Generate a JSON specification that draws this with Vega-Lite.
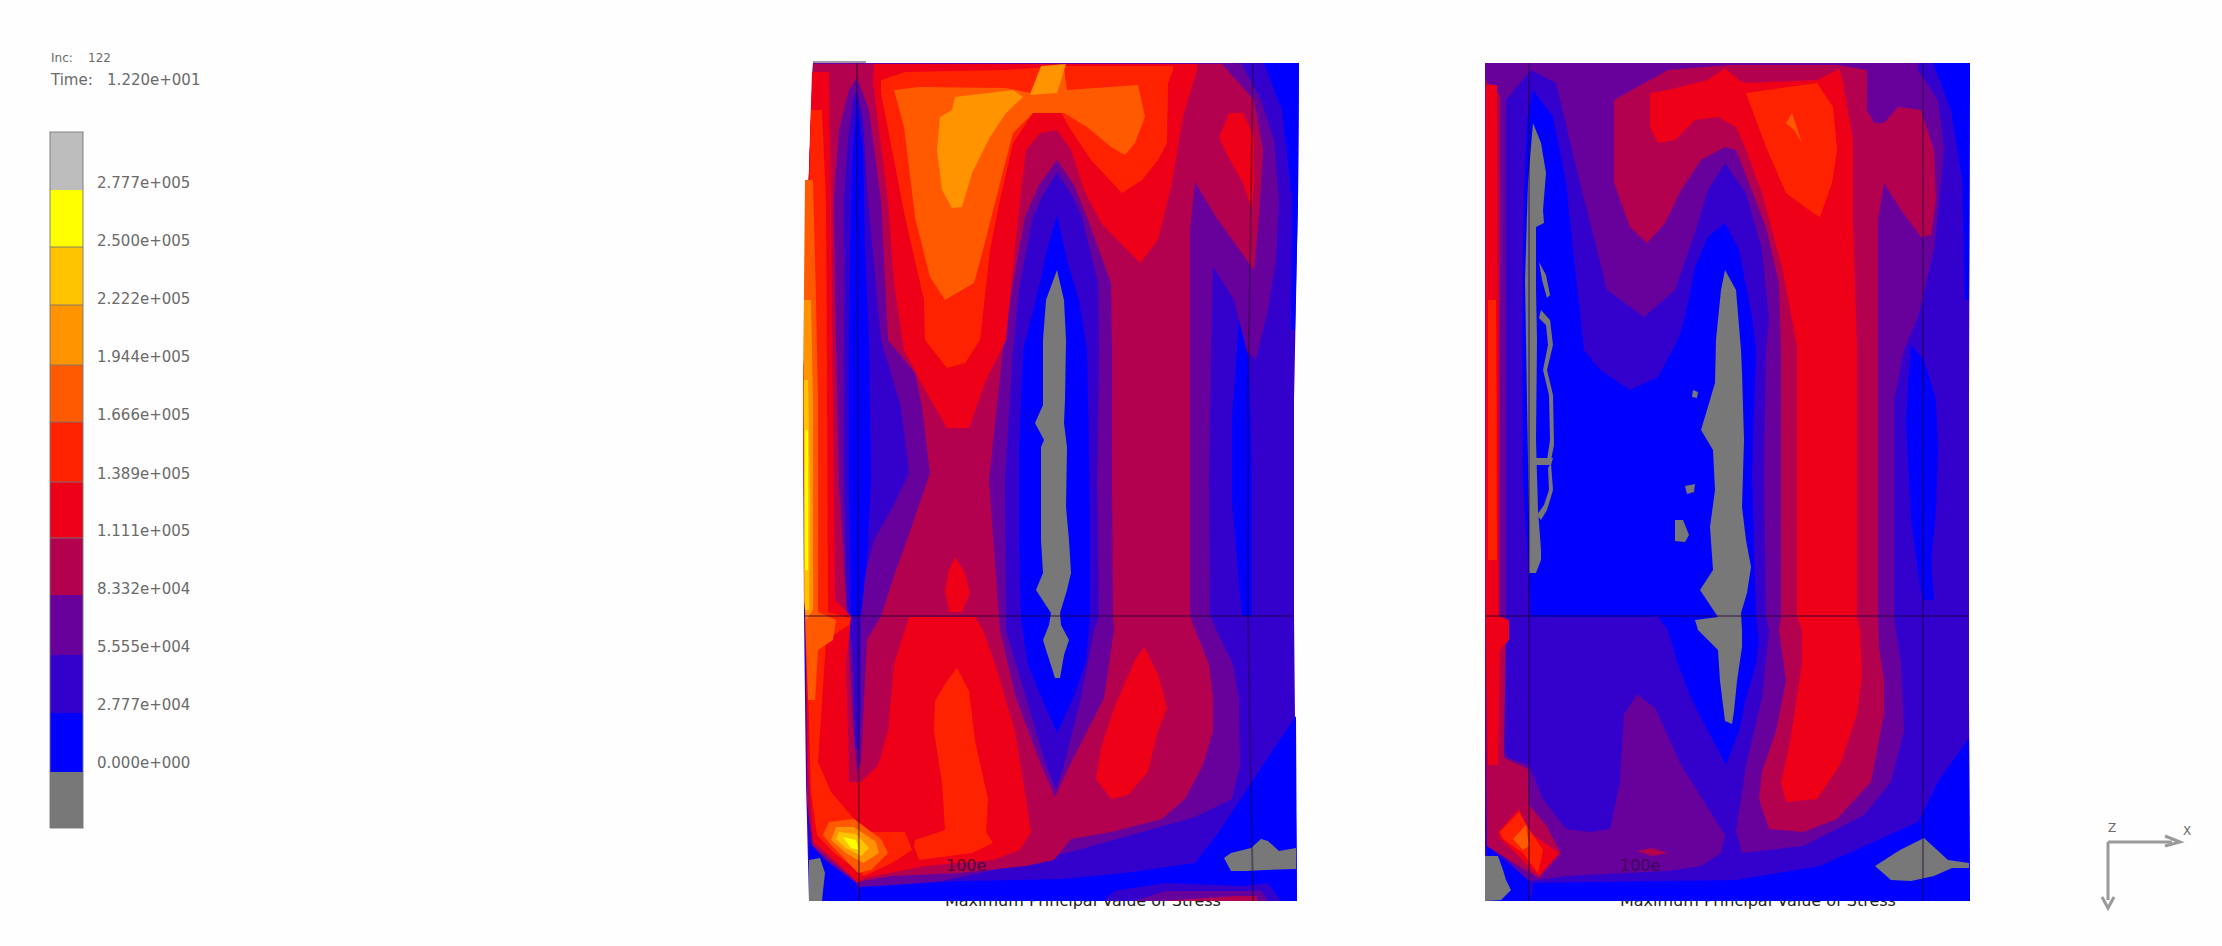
{"$schema":"https://vega.github.io/schema/vega-lite/v6.json","width":2222,"height":946,"padding":0,"autosize":"none","background":"#fefefe","view":{"stroke":null},
"projection":{"type":"identity","scale":1,"translate":[0,0]},
"datasets":{
"regions":[
{"level":"2.777e+005","geo":{"type":"Polygon","coordinates":[[[50,132],[83,132],[83,190],[50,190],[50,132]]]}},
{"level":"2.500e+005","geo":{"type":"Polygon","coordinates":[[[50,190],[83,190],[83,247],[50,247],[50,190]]]}},
{"level":"2.222e+005","geo":{"type":"Polygon","coordinates":[[[50,247],[83,247],[83,305],[50,305],[50,247]]]}},
{"level":"1.944e+005","geo":{"type":"Polygon","coordinates":[[[50,305],[83,305],[83,365],[50,365],[50,305]]]}},
{"level":"1.666e+005","geo":{"type":"Polygon","coordinates":[[[50,365],[83,365],[83,422],[50,422],[50,365]]]}},
{"level":"1.389e+005","geo":{"type":"Polygon","coordinates":[[[50,422],[83,422],[83,482],[50,482],[50,422]]]}},
{"level":"1.111e+005","geo":{"type":"Polygon","coordinates":[[[50,482],[83,482],[83,538],[50,538],[50,482]]]}},
{"level":"8.332e+004","geo":{"type":"Polygon","coordinates":[[[50,538],[83,538],[83,595],[50,595],[50,538]]]}},
{"level":"5.555e+004","geo":{"type":"Polygon","coordinates":[[[50,595],[83,595],[83,655],[50,655],[50,595]]]}},
{"level":"2.777e+004","geo":{"type":"Polygon","coordinates":[[[50,655],[83,655],[83,713],[50,713],[50,655]]]}},
{"level":"0.000e+000","geo":{"type":"Polygon","coordinates":[[[50,713],[83,713],[83,772],[50,772],[50,713]]]}},
{"level":"below","geo":{"type":"Polygon","coordinates":[[[50,772],[83,772],[83,828],[50,828],[50,772]]]}},

{"level":"2.777e+004","geo":{"type":"Polygon","coordinates":[[[813,63],[1299,63],[1298,200],[1294,400],[1294,616],[1295,721],[1297,901],[809,901],[806,782],[804,616],[803,400],[808,200],[813,63]]]}},
{"level":"5.555e+004","geo":{"type":"Polygon","coordinates":[[[813,63],[1241,63],[1261,100],[1274,140],[1279,200],[1276,260],[1268,310],[1256,360],[1246,350],[1234,300],[1213,267],[1211,350],[1209,480],[1210,616],[1221,640],[1233,664],[1239,698],[1240,765],[1232,799],[1195,817],[1124,837],[1074,851],[1003,868],[942,881],[861,888],[813,853],[807,802],[806,616],[803,400],[808,200],[813,63]]]}},
{"level":"8.332e+004","geo":{"type":"Polygon","coordinates":[[[813,64],[1222,64],[1254,100],[1263,150],[1259,217],[1254,270],[1216,217],[1195,182],[1190,230],[1190,616],[1195,630],[1209,664],[1213,698],[1213,731],[1203,765],[1185,799],[1162,819],[1111,832],[1071,839],[1054,860],[1026,866],[959,873],[891,876],[863,881],[858,883],[813,846],[807,802],[806,616],[803,400],[808,200],[813,64]]]}},
{"level":"5.555e+004","geo":{"type":"Polygon","coordinates":[[[857,78],[869,110],[881,200],[888,340],[915,373],[922,407],[930,473],[907,540],[895,573],[881,616],[867,640],[864,701],[861,762],[857,772],[853,721],[850,660],[847,616],[839,480],[836,340],[834,200],[839,130],[849,90],[857,78]]]}},
{"level":"5.555e+004","geo":{"type":"Polygon","coordinates":[[[1057,160],[1074,185],[1087,217],[1111,283],[1112,350],[1112,480],[1113,616],[1114,630],[1104,698],[1070,765],[1055,797],[1041,765],[1016,698],[1000,630],[989,480],[1003,350],[1013,283],[1025,217],[1039,185],[1057,160]]]}},
{"level":"2.777e+004","geo":{"type":"Polygon","coordinates":[[[857,90],[863,120],[868,200],[881,340],[901,407],[909,473],[891,510],[874,540],[861,590],[861,701],[859,749],[855,749],[853,650],[847,616],[844,480],[844,340],[844,200],[848,140],[853,100],[857,90]]]}},
{"level":"2.777e+004","geo":{"type":"Polygon","coordinates":[[[1057,172],[1072,195],[1082,217],[1098,283],[1099,350],[1097,480],[1099,616],[1094,630],[1081,698],[1064,765],[1056,789],[1046,765],[1026,698],[1006,630],[1005,480],[1013,350],[1020,283],[1033,217],[1043,195],[1057,172]]]}},
{"level":"0.000e+000","geo":{"type":"Polygon","coordinates":[[[857,100],[863,150],[865,250],[869,340],[871,480],[867,560],[861,616],[851,616],[849,480],[849,340],[851,200],[853,150],[857,100]]]}},
{"level":"0.000e+000","geo":{"type":"Polygon","coordinates":[[[1057,215],[1067,260],[1079,300],[1087,350],[1089,450],[1090,540],[1090,616],[1086,661],[1074,696],[1057,733],[1043,701],[1028,665],[1021,620],[1019,540],[1019,450],[1023,350],[1036,300],[1047,250],[1057,215]]]}},
{"level":"0.000e+000","geo":{"type":"Polygon","coordinates":[[[1239,320],[1249,360],[1252,480],[1252,616],[1242,616],[1232,500],[1232,420],[1239,320]]]}},
{"level":"0.000e+000","geo":{"type":"Polygon","coordinates":[[[1264,63],[1299,63],[1298,200],[1295,330],[1291,330],[1292,200],[1282,110],[1264,63]]]}},
{"level":"0.000e+000","geo":{"type":"Polygon","coordinates":[[[1296,716],[1297,901],[859,901],[859,887],[962,881],[1063,879],[1124,873],[1195,863],[1219,832],[1263,765],[1296,716]]]}},
{"level":"0.000e+000","geo":{"type":"Polygon","coordinates":[[[809,842],[825,860],[856,883],[859,901],[809,901],[809,842]]]}},
{"level":"2.777e+004","geo":{"type":"Polygon","coordinates":[[[1104,901],[1114,891],[1165,883],[1246,886],[1268,883],[1281,901],[1104,901]]]}},
{"level":"5.555e+004","geo":{"type":"Polygon","coordinates":[[[1134,901],[1165,891],[1236,891],[1261,891],[1268,901],[1134,901]]]}},
{"level":"8.332e+004","geo":{"type":"Polygon","coordinates":[[[1165,901],[1236,896],[1256,896],[1258,901],[1165,901]]]}},
{"level":"1.111e+005","geo":{"type":"Polygon","coordinates":[[[874,64],[1197,64],[1197,70],[1183,117],[1172,183],[1158,240],[1140,263],[1101,223],[1084,190],[1071,150],[1057,130],[1040,133],[1026,150],[1020,200],[1013,267],[1006,340],[986,380],[969,428],[947,428],[925,390],[904,350],[894,283],[888,200],[873,83],[874,64]]]}},
{"level":"1.111e+005","geo":{"type":"Polygon","coordinates":[[[1229,113],[1243,113],[1254,137],[1254,183],[1252,210],[1243,183],[1226,153],[1219,137],[1229,113]]]}},
{"level":"1.111e+005","geo":{"type":"Polygon","coordinates":[[[955,557],[965,573],[970,593],[962,612],[949,612],[945,590],[949,570],[955,557]]]}},
{"level":"1.111e+005","geo":{"type":"Polygon","coordinates":[[[812,72],[829,72],[831,200],[833,400],[835,600],[851,616],[849,640],[846,664],[848,731],[849,782],[861,782],[878,765],[888,731],[894,664],[905,630],[909,617],[975,617],[983,630],[995,664],[1015,731],[1026,799],[1031,832],[1020,850],[993,860],[925,866],[864,878],[858,883],[848,873],[823,850],[813,842],[808,765],[805,616],[803,400],[808,200],[812,72]]]}},
{"level":"1.111e+005","geo":{"type":"Polygon","coordinates":[[[1144,647],[1158,674],[1167,708],[1158,731],[1148,772],[1128,795],[1111,799],[1096,779],[1101,748],[1114,708],[1135,660],[1144,647]]]}},
{"level":"1.389e+005","geo":{"type":"Polygon","coordinates":[[[881,93],[905,217],[924,300],[925,340],[947,368],[965,363],[980,340],[990,250],[1000,200],[1013,143],[1033,113],[1061,113],[1071,130],[1091,160],[1122,193],[1142,180],[1158,160],[1167,143],[1168,83],[1173,70],[1173,66],[1064,66],[1003,70],[905,72],[881,80],[881,93]]]}},
{"level":"1.389e+005","geo":{"type":"Polygon","coordinates":[[[811,110],[822,110],[826,200],[827,400],[828,612],[851,618],[849,625],[826,640],[824,671],[818,762],[831,792],[854,819],[871,832],[905,832],[912,850],[892,863],[864,876],[834,853],[817,835],[811,792],[806,616],[804,400],[809,200],[811,110]]]}},
{"level":"1.389e+005","geo":{"type":"Polygon","coordinates":[[[957,668],[969,691],[975,741],[988,799],[986,832],[993,843],[972,853],[919,860],[914,846],[915,840],[945,830],[942,782],[934,731],[935,701],[945,684],[957,668]]]}},
{"level":"1.666e+005","geo":{"type":"Polygon","coordinates":[[[894,90],[919,87],[1006,88],[1030,93],[1040,70],[1064,68],[1067,90],[1138,85],[1145,117],[1135,143],[1125,155],[1111,147],[1087,127],[1064,113],[1033,113],[1013,133],[1000,183],[983,250],[974,283],[945,300],[930,277],[915,217],[904,127],[894,90]]]}},
{"level":"1.944e+005","geo":{"type":"Polygon","coordinates":[[[955,97],[1013,90],[1023,97],[1006,113],[990,137],[972,173],[962,207],[952,208],[942,190],[937,150],[940,117],[952,110],[955,97]]]}},
{"level":"1.944e+005","geo":{"type":"Polygon","coordinates":[[[1041,66],[1066,64],[1057,93],[1030,95],[1041,66]]]}},
{"level":"1.666e+005","geo":{"type":"Polygon","coordinates":[[[805,180],[813,180],[816,300],[818,400],[818,612],[836,620],[833,640],[818,650],[815,700],[808,700],[805,616],[803,400],[805,180]]]}},
{"level":"1.944e+005","geo":{"type":"Polygon","coordinates":[[[804,300],[811,300],[813,400],[813,610],[806,620],[804,600],[804,300]]]}},
{"level":"2.222e+005","geo":{"type":"Polygon","coordinates":[[[804,380],[808,380],[810,500],[809,610],[805,610],[804,500],[804,380]]]}},
{"level":"2.500e+005","geo":{"type":"Polygon","coordinates":[[[805,430],[808,430],[808,570],[805,570],[805,430]]]}},
{"level":"1.666e+005","geo":{"type":"Polygon","coordinates":[[[829,822],[854,819],[881,839],[888,853],[871,870],[858,873],[831,845],[823,835],[829,822]]]}},
{"level":"1.944e+005","geo":{"type":"Polygon","coordinates":[[[836,827],[854,827],[876,842],[879,853],[863,863],[846,853],[831,840],[836,827]]]}},
{"level":"2.222e+005","geo":{"type":"Polygon","coordinates":[[[839,832],[856,834],[869,848],[861,856],[846,848],[836,839],[839,832]]]}},
{"level":"2.500e+005","geo":{"type":"Polygon","coordinates":[[[843,837],[856,840],[859,850],[851,848],[843,837]]]}},
{"level":"below","geo":{"type":"Polygon","coordinates":[[[809,860],[820,858],[825,873],[823,891],[822,901],[809,901],[809,860]]]}},
{"level":"below","geo":{"type":"Polygon","coordinates":[[[1224,858],[1231,853],[1251,848],[1261,839],[1268,841],[1279,851],[1296,848],[1296,869],[1266,870],[1246,871],[1231,871],[1224,858]]]}},
{"level":"below","geo":{"type":"Polygon","coordinates":[[[1057,270],[1064,300],[1066,340],[1065,400],[1064,423],[1067,447],[1066,507],[1069,540],[1071,573],[1067,590],[1060,613],[1061,625],[1069,640],[1064,655],[1060,678],[1055,678],[1048,656],[1043,640],[1049,625],[1051,613],[1036,590],[1043,573],[1041,540],[1041,507],[1041,447],[1044,440],[1035,423],[1043,405],[1043,340],[1046,300],[1057,270]]]}},

{"level":"2.777e+004","geo":{"type":"Polygon","coordinates":[[[1485,63],[1970,63],[1969,400],[1969,701],[1970,901],[1485,901],[1485,63]]]}},
{"level":"5.555e+004","geo":{"type":"Polygon","coordinates":[[[1485,63],[1918,63],[1918,70],[1938,100],[1944,150],[1941,183],[1934,250],[1918,317],[1904,350],[1894,400],[1894,617],[1901,664],[1904,731],[1891,782],[1864,815],[1803,846],[1742,853],[1736,832],[1746,765],[1762,698],[1769,630],[1766,617],[1764,473],[1766,350],[1769,317],[1762,250],[1746,193],[1725,163],[1708,190],[1695,233],[1675,290],[1644,317],[1607,290],[1597,250],[1580,183],[1556,83],[1531,70],[1506,100],[1506,400],[1506,616],[1503,640],[1503,751],[1509,758],[1529,765],[1543,799],[1566,829],[1590,832],[1610,829],[1620,782],[1624,714],[1637,694],[1655,708],[1681,765],[1725,835],[1721,853],[1701,866],[1668,871],[1566,876],[1539,880],[1529,881],[1503,856],[1487,846],[1485,616],[1485,63]]]}},
{"level":"8.332e+004","geo":{"type":"Polygon","coordinates":[[[1485,80],[1500,95],[1500,400],[1500,616],[1506,630],[1504,758],[1528,769],[1529,805],[1546,825],[1561,853],[1539,878],[1509,860],[1487,846],[1485,616],[1485,80]]]}},
{"level":"8.332e+004","geo":{"type":"Polygon","coordinates":[[[1614,100],[1668,70],[1728,65],[1837,65],[1867,70],[1867,110],[1874,123],[1884,123],[1898,107],[1921,110],[1934,150],[1936,200],[1931,235],[1921,237],[1901,210],[1884,183],[1878,220],[1878,350],[1878,617],[1879,647],[1884,681],[1884,714],[1871,782],[1837,819],[1803,832],[1769,829],[1759,799],[1762,772],[1776,731],[1786,681],[1779,630],[1781,617],[1781,350],[1779,283],[1766,227],[1749,183],[1736,150],[1725,147],[1701,160],[1681,190],[1665,223],[1647,243],[1630,227],[1614,183],[1614,100]]]}},
{"level":"8.332e+004","geo":{"type":"Polygon","coordinates":[[[1637,851],[1652,848],[1668,853],[1652,856],[1637,851]]]}},
{"level":"0.000e+000","geo":{"type":"Polygon","coordinates":[[[1533,90],[1553,117],[1566,183],[1573,250],[1584,350],[1600,370],[1630,390],[1658,377],[1678,340],[1685,317],[1695,267],[1708,237],[1725,223],[1739,250],[1752,317],[1756,350],[1752,473],[1756,617],[1759,640],[1756,664],[1746,698],[1739,731],[1726,765],[1708,731],[1691,698],[1678,664],[1668,630],[1658,617],[1531,617],[1523,480],[1522,340],[1524,200],[1527,120],[1533,90]]]}},
{"level":"0.000e+000","geo":{"type":"Polygon","coordinates":[[[1911,345],[1924,360],[1936,400],[1938,450],[1936,510],[1931,560],[1934,600],[1922,600],[1911,520],[1906,420],[1911,345]]]}},
{"level":"0.000e+000","geo":{"type":"Polygon","coordinates":[[[1933,63],[1970,63],[1969,300],[1965,300],[1962,180],[1951,110],[1933,63]]]}},
{"level":"0.000e+000","geo":{"type":"Polygon","coordinates":[[[1969,738],[1970,901],[1531,901],[1533,883],[1736,880],[1820,866],[1918,822],[1938,782],[1969,738]]]}},
{"level":"0.000e+000","geo":{"type":"Polygon","coordinates":[[[1487,846],[1529,881],[1531,901],[1485,901],[1487,846]]]}},
{"level":"1.111e+005","geo":{"type":"Polygon","coordinates":[[[1486,85],[1497,85],[1498,400],[1498,616],[1509,620],[1509,640],[1500,650],[1498,765],[1488,765],[1486,616],[1486,85]]]}},
{"level":"1.111e+005","geo":{"type":"Polygon","coordinates":[[[1498,832],[1519,809],[1529,832],[1559,853],[1539,876],[1500,838],[1498,832]]]}},
{"level":"1.389e+005","geo":{"type":"Polygon","coordinates":[[[1500,832],[1519,812],[1529,829],[1543,850],[1538,873],[1523,853],[1503,839],[1500,832]]]}},
{"level":"1.666e+005","geo":{"type":"Polygon","coordinates":[[[1513,839],[1526,825],[1529,846],[1523,850],[1513,839]]]}},
{"level":"1.389e+005","geo":{"type":"Polygon","coordinates":[[[1488,300],[1496,300],[1497,560],[1488,560],[1488,300]]]}},
{"level":"1.111e+005","geo":{"type":"Polygon","coordinates":[[[1650,127],[1650,93],[1668,90],[1708,80],[1725,68],[1739,80],[1746,83],[1817,80],[1837,70],[1840,70],[1843,83],[1853,140],[1853,217],[1857,347],[1857,617],[1860,630],[1862,674],[1857,714],[1840,765],[1817,799],[1786,802],[1781,782],[1789,748],[1802,664],[1802,630],[1797,617],[1797,347],[1782,267],[1762,193],[1746,150],[1736,127],[1718,117],[1695,120],[1675,140],[1658,143],[1650,127]]]}},
{"level":"1.389e+005","geo":{"type":"Polygon","coordinates":[[[1746,93],[1817,83],[1833,107],[1837,150],[1832,183],[1820,217],[1813,213],[1786,193],[1766,147],[1746,93]]]}},
{"level":"1.666e+005","geo":{"type":"Polygon","coordinates":[[[1792,113],[1802,143],[1794,130],[1786,123],[1792,113]]]}},
{"level":"below","geo":{"type":"Polygon","coordinates":[[[1485,856],[1498,856],[1503,870],[1506,880],[1511,890],[1501,900],[1485,901],[1485,856]]]}},
{"level":"below","geo":{"type":"Polygon","coordinates":[[[1875,866],[1900,850],[1924,838],[1948,860],[1969,863],[1969,868],[1952,868],[1934,876],[1911,881],[1891,880],[1875,866]]]}},
{"level":"below","geo":{"type":"Polygon","coordinates":[[[1533,123],[1541,143],[1546,173],[1543,210],[1544,223],[1536,227],[1536,290],[1537,340],[1536,440],[1538,510],[1541,550],[1541,560],[1536,573],[1529,573],[1529,520],[1526,340],[1525,280],[1528,183],[1533,123]]]}},
{"level":"below","geo":{"type":"Polygon","coordinates":[[[1539,262],[1546,275],[1550,295],[1547,298],[1542,280],[1539,262]]]}},
{"level":"below","geo":{"type":"Polygon","coordinates":[[[1541,310],[1550,320],[1553,345],[1547,370],[1553,395],[1554,445],[1551,460],[1547,460],[1550,440],[1549,395],[1543,370],[1548,345],[1546,325],[1539,318],[1541,310]]]}},
{"level":"below","geo":{"type":"Polygon","coordinates":[[[1536,458],[1553,458],[1551,465],[1536,465],[1536,458]]]}},
{"level":"below","geo":{"type":"Polygon","coordinates":[[[1551,463],[1553,490],[1547,510],[1541,520],[1537,515],[1544,505],[1549,490],[1548,468],[1551,463]]]}},
{"level":"below","geo":{"type":"Polygon","coordinates":[[[1725,270],[1736,290],[1741,350],[1742,373],[1744,440],[1742,507],[1746,540],[1751,567],[1747,593],[1741,613],[1742,630],[1742,647],[1737,681],[1734,711],[1732,724],[1725,721],[1720,681],[1718,650],[1698,630],[1695,620],[1718,617],[1700,590],[1713,570],[1710,527],[1715,490],[1713,450],[1701,430],[1715,383],[1716,340],[1721,290],[1725,270]]]}},
{"level":"below","geo":{"type":"Polygon","coordinates":[[[1693,390],[1698,392],[1697,398],[1692,397],[1693,390]]]}},
{"level":"below","geo":{"type":"Polygon","coordinates":[[[1685,486],[1695,484],[1694,492],[1687,494],[1685,486]]]}},
{"level":"below","geo":{"type":"Polygon","coordinates":[[[1675,520],[1683,520],[1689,535],[1685,542],[1675,541],[1675,520]]]}}
],
"mesh":[
{"geo":{"type":"LineString","coordinates":[[857,63],[859,901]]}},
{"geo":{"type":"LineString","coordinates":[[1253,63],[1248,400],[1248,616],[1253,901]]}},
{"geo":{"type":"LineString","coordinates":[[805,616],[1294,616]]}},
{"geo":{"type":"LineString","coordinates":[[813,62],[866,62]]}},
{"geo":{"type":"LineString","coordinates":[[1529,63],[1529,901]]}},
{"geo":{"type":"LineString","coordinates":[[1923,63],[1923,901]]}},
{"geo":{"type":"LineString","coordinates":[[1485,616],[1969,616]]}}
],
"triad":[
{"geo":{"type":"LineString","coordinates":[[2108,842],[2172,842]]}},
{"geo":{"type":"LineString","coordinates":[[2108,842],[2108,900]]}},
{"geo":{"type":"LineString","coordinates":[[2165,836],[2180,842],[2165,846]]}},
{"geo":{"type":"LineString","coordinates":[[2102,897],[2108,908],[2114,897]]}}
],
"legendBox":[
{"geo":{"type":"LineString","coordinates":[[50,828],[50,132],[83,132],[83,828],[50,828]]}},
{"geo":{"type":"LineString","coordinates":[[50,247],[83,247]]}},
{"geo":{"type":"LineString","coordinates":[[50,305],[83,305]]}},
{"geo":{"type":"LineString","coordinates":[[50,365],[83,365]]}},
{"geo":{"type":"LineString","coordinates":[[50,422],[83,422]]}},
{"geo":{"type":"LineString","coordinates":[[50,482],[83,482]]}},
{"geo":{"type":"LineString","coordinates":[[50,538],[83,538]]}}
],
"legendText":[
{"t":"Inc:\u00a0\u00a0\u00a0\u00a0122","lon":51,"lat":58,"s":12},
{"t":"Time:\u00a0\u00a0\u00a01.220e+001","lon":51,"lat":80,"s":15},
{"t":"2.777e+005","lon":97,"lat":183,"s":15},
{"t":"2.500e+005","lon":97,"lat":241,"s":15},
{"t":"2.222e+005","lon":97,"lat":299,"s":15},
{"t":"1.944e+005","lon":97,"lat":357,"s":15},
{"t":"1.666e+005","lon":97,"lat":415,"s":15},
{"t":"1.389e+005","lon":97,"lat":474,"s":15},
{"t":"1.111e+005","lon":97,"lat":531,"s":15},
{"t":"8.332e+004","lon":97,"lat":589,"s":15},
{"t":"5.555e+004","lon":97,"lat":647,"s":15},
{"t":"2.777e+004","lon":97,"lat":705,"s":15},
{"t":"0.000e+000","lon":97,"lat":763,"s":15},
{"t":"Z","lon":2108,"lat":828,"s":12},
{"t":"X","lon":2183,"lat":831,"s":12}
],
"panelText":[
{"t":"100e","lon":946,"lat":866,"s":16},
{"t":"100e","lon":1620,"lat":866,"s":16}
],
"underText":[
{"t":"Maximum Principal Value of Stress","lon":945,"lat":901,"s":16},
{"t":"Maximum Principal Value of Stress","lon":1620,"lat":901,"s":16}
]
},
"layer":[
{"data":{"name":"underText"},"mark":{"type":"text","align":"left","baseline":"middle","font":"DejaVu Sans","color":"#222222"},"encoding":{"longitude":{"field":"lon","type":"quantitative"},"latitude":{"field":"lat","type":"quantitative"},"text":{"field":"t"},"size":{"field":"s","type":"quantitative","scale":null}}},
{"data":{"name":"regions"},"mark":{"type":"geoshape","filled":true,"strokeWidth":0},"encoding":{"shape":{"field":"geo","type":"geojson"},"color":{"field":"level","type":"nominal","legend":null,"scale":{"domain":["below","0.000e+000","2.777e+004","5.555e+004","8.332e+004","1.111e+005","1.389e+005","1.666e+005","1.944e+005","2.222e+005","2.500e+005","2.777e+005"],"range":["#787878","#0000ff","#3300cc","#68009c","#b3004f","#ee0019","#ff2200","#ff5a00","#ff9400","#ffc400","#ffff00","#bdbdbd"]}}}},
{"data":{"name":"mesh"},"mark":{"type":"geoshape","filled":false,"stroke":"#1a0033","strokeWidth":2,"opacity":0.4},"encoding":{"shape":{"field":"geo","type":"geojson"}}},
{"data":{"name":"legendBox"},"mark":{"type":"geoshape","filled":false,"stroke":"#777777","strokeWidth":1.5,"opacity":0.6},"encoding":{"shape":{"field":"geo","type":"geojson"}}},
{"data":{"name":"triad"},"mark":{"type":"geoshape","filled":false,"stroke":"#9a9a9a","strokeWidth":3},"encoding":{"shape":{"field":"geo","type":"geojson"}}},
{"data":{"name":"legendText"},"mark":{"type":"text","align":"left","baseline":"middle","font":"DejaVu Sans","color":"#6a6a6a"},"encoding":{"longitude":{"field":"lon","type":"quantitative"},"latitude":{"field":"lat","type":"quantitative"},"text":{"field":"t"},"size":{"field":"s","type":"quantitative","scale":null}}},
{"data":{"name":"panelText"},"mark":{"type":"text","align":"left","baseline":"middle","font":"DejaVu Sans","color":"#26103f","opacity":0.7},"encoding":{"longitude":{"field":"lon","type":"quantitative"},"latitude":{"field":"lat","type":"quantitative"},"text":{"field":"t"},"size":{"field":"s","type":"quantitative","scale":null}}}
]}
